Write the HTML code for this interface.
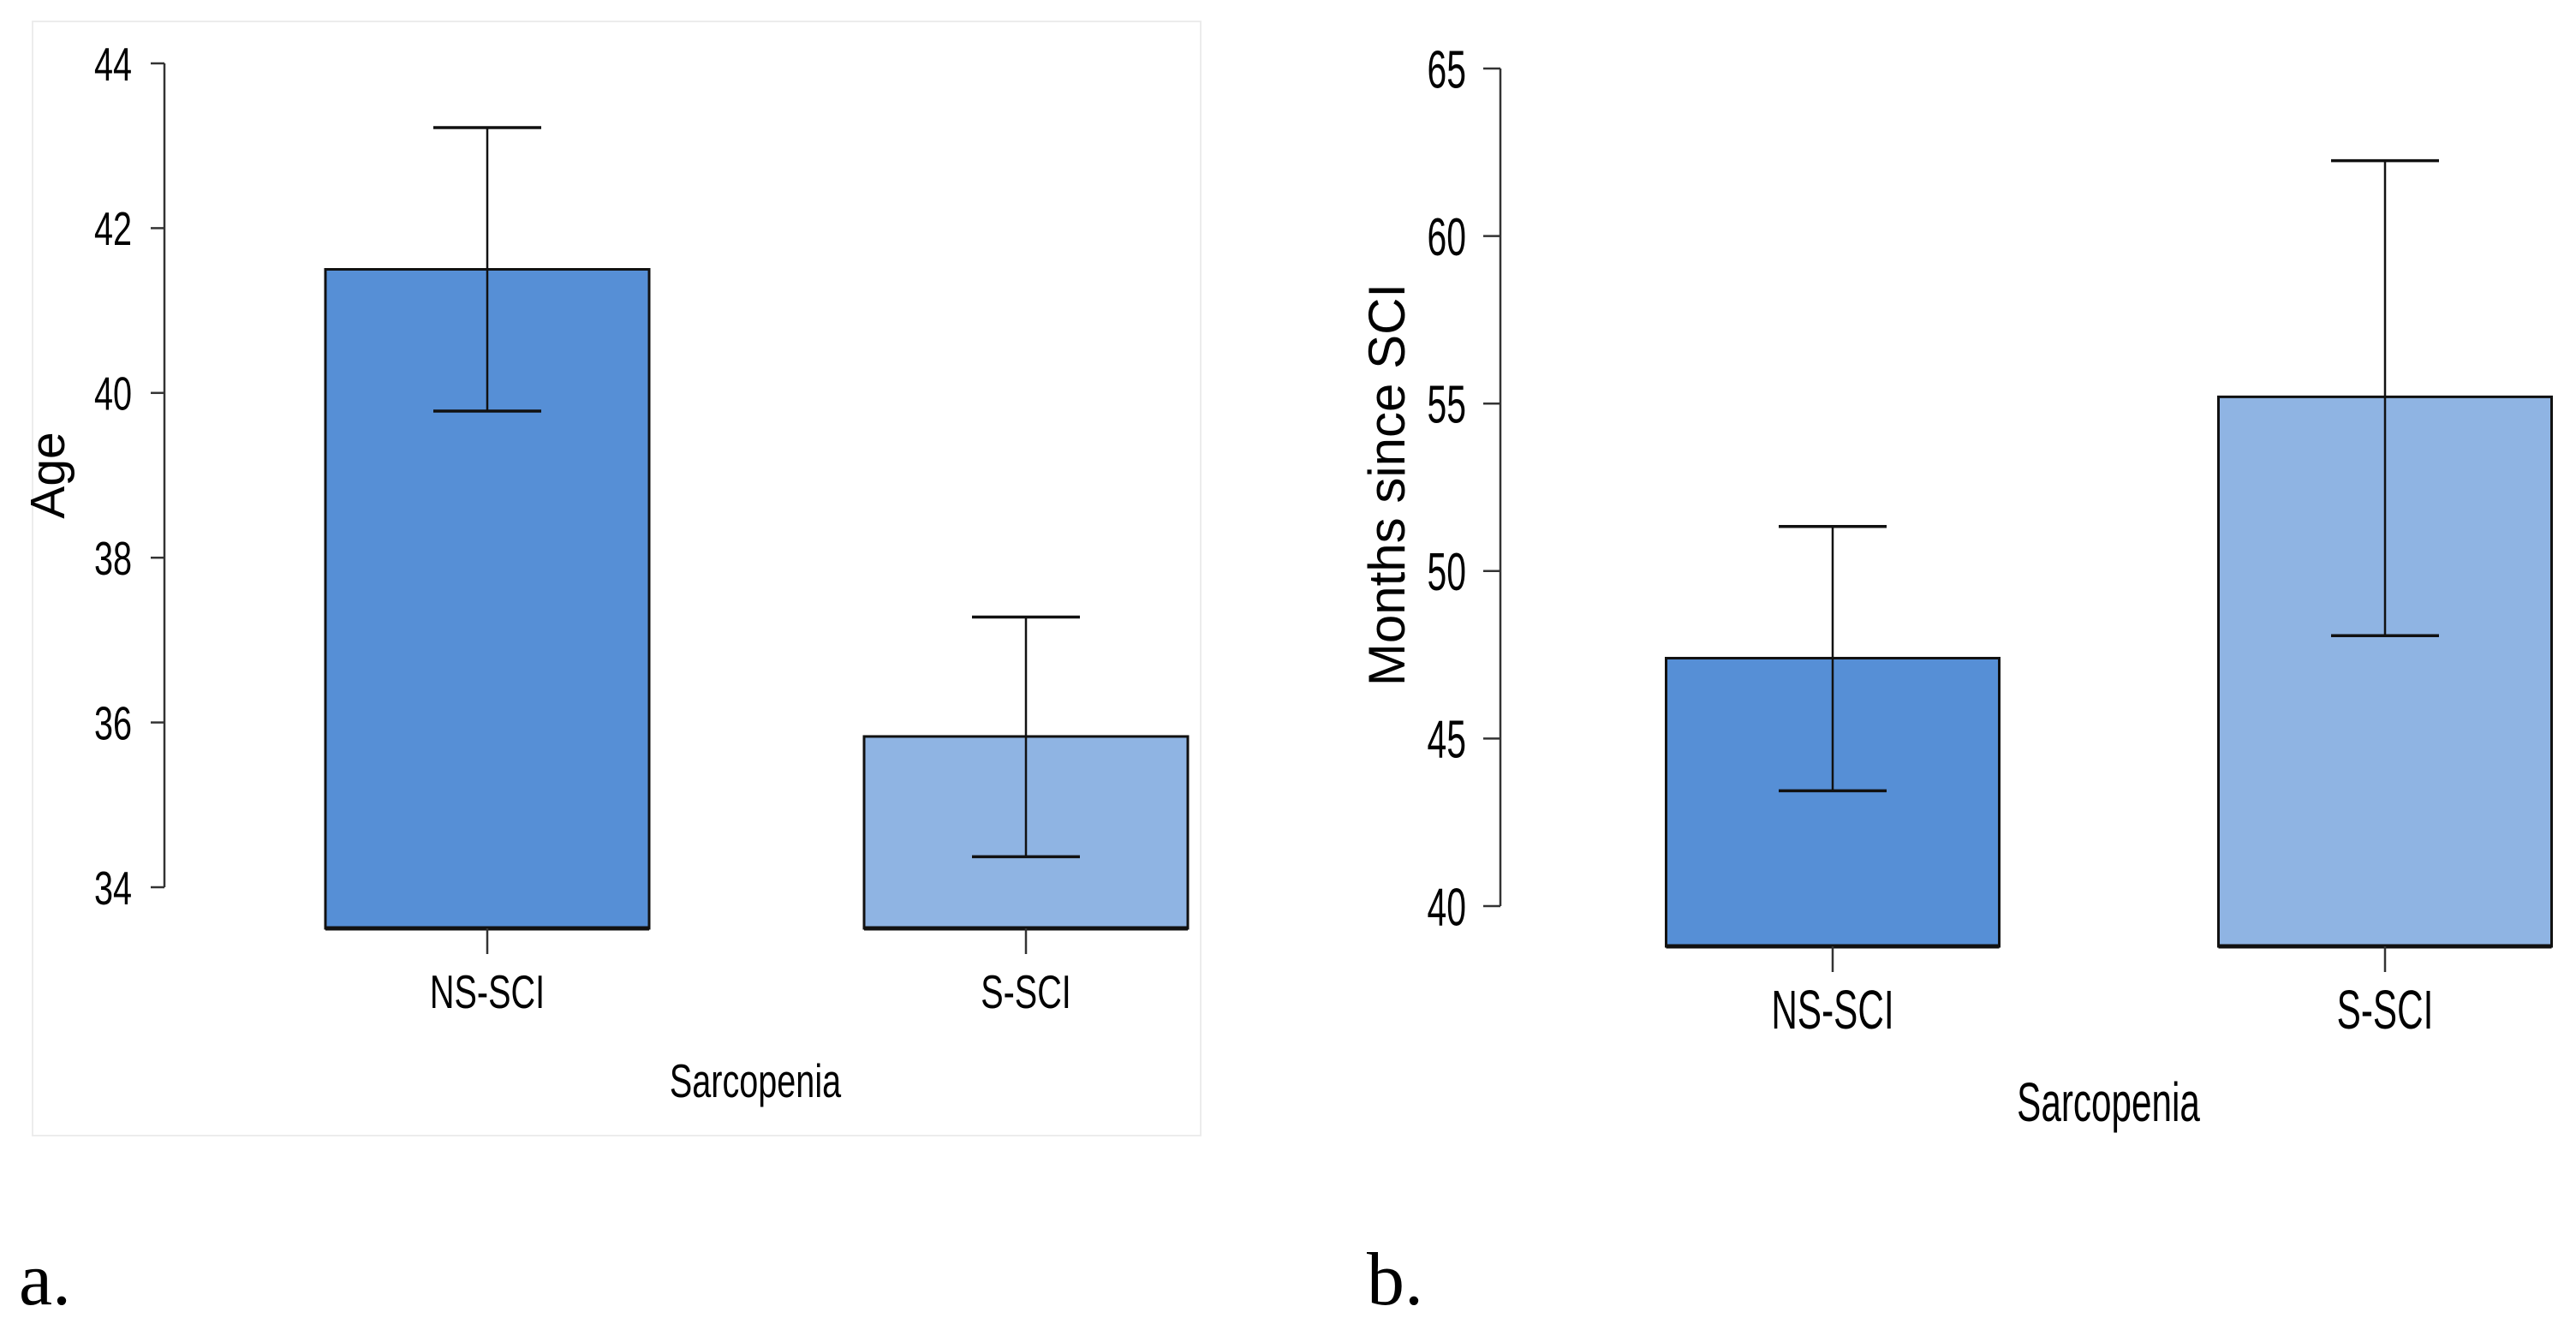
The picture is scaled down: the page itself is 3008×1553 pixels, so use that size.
<!DOCTYPE html>
<html><head><meta charset="utf-8"><style>
html,body{margin:0;padding:0;background:#fff;}
svg{display:block;}
text{font-family:"Liberation Sans",Arial,sans-serif;fill:#000;}
</style></head><body>
<svg id="chart" width="3008" height="1553" viewBox="0 0 3008 1553" xmlns="http://www.w3.org/2000/svg">
<rect x="38" y="25" width="1364" height="1301" fill="#fff" stroke="#ececec" stroke-width="2"/>
<text x="22" y="1523" style="font-family:'Liberation Serif',serif;font-size:88px">a.</text>
<text x="1596" y="1523" style="font-family:'Liberation Serif',serif;font-size:88px">b.</text>
</svg>
<script>
// Panel a: Age
const categoriesA = ["NS-SCI", "S-SCI"];
const meansA = [41.5, 35.83];
const upperA = [43.22, 37.28];
const lowerA = [39.78, 34.37];
const ticksA = [34, 36, 38, 40, 42, 44];
// Panel b: Months since SCI
const categoriesB = ["NS-SCI", "S-SCI"];
const meansB = [47.4, 55.2];
const upperB = [51.33, 62.25];
const lowerB = [43.44, 48.07];
const ticksB = [40, 45, 50, 55, 60, 65];

const svg = document.getElementById('chart');
const NS = 'http://www.w3.org/2000/svg';
function mk(tag, attrs, parent) {
  const e = document.createElementNS(NS, tag);
  for (const k in attrs) e.setAttribute(k, attrs[k]);
  (parent || svg).appendChild(e);
  return e;
}
function label(txt, x, y, size, sx, anchor, parent) {
  const t = mk('text', {transform: `translate(${x},${y}) scale(${sx},1)`, 'font-size': size, 'text-anchor': anchor}, parent);
  t.textContent = txt;
  return t;
}

function drawPanel(cfg) {
  const g = mk('g', {});
  
  
  const y = v => cfg.y0 + (cfg.v0 - v) / (cfg.v1 - cfg.v0) * (cfg.y1 - cfg.y0) * -1;
  // y = pixel at v: linear between (v0,y0) and (v1,y1)
  const Y = v => cfg.y0 + (v - cfg.v0) * (cfg.y1 - cfg.y0) / (cfg.v1 - cfg.v0);
  const ticks = cfg.ticks;
  const axis = mk('line', {x1: cfg.ax, x2: cfg.ax, y1: Y(ticks[0]), y2: Y(ticks[ticks.length-1]), stroke: '#333', 'stroke-width': 2.5}, g);
  
  
  ticks.forEach(t => {
    const tl = mk('line', {x1: cfg.ax - cfg.tickLen, x2: cfg.ax, y1: Y(t), y2: Y(t), stroke: '#333', 'stroke-width': 2.5}, g);
    
    
    const lab = label(String(t), cfg.labRight, Y(t) + cfg.tickFont * 0.36, cfg.tickFont, cfg.sx, 'end', g);
    
    
  });
  cfg.cats.forEach((c, i) => {
    const cx = cfg.centers[i];
    const top = Y(cfg.means[i]);
    const bar = mk('rect', {x: cx - cfg.bw/2, y: top, width: cfg.bw, height: cfg.base - top, fill: cfg.colors[i], stroke: '#111', 'stroke-width': 3}, g);
    
    
    const bl = mk('line', {x1: cx - cfg.bw/2, x2: cx + cfg.bw/2, y1: cfg.base, y2: cfg.base, stroke: '#111', 'stroke-width': 5}, g);
    
    
    const ev = mk('line', {x1: cx, x2: cx, y1: Y(cfg.upper[i]), y2: Y(cfg.lower[i]), stroke: '#111', 'stroke-width': 2.5}, g);
    
    
    [cfg.upper[i], cfg.lower[i]].forEach(v => {
      const cap = mk('line', {x1: cx - cfg.cap, x2: cx + cfg.cap, y1: Y(v), y2: Y(v), stroke: '#111', 'stroke-width': 3.5}, g);
      
      
    });
    const ct = mk('line', {x1: cx, x2: cx, y1: cfg.base, y2: cfg.base + 30, stroke: '#333', 'stroke-width': 2.5}, g);
    
    
    const cl = label(c, cx, cfg.catY, cfg.catFont, cfg.sx, 'middle', g);
    
    
  });
  const xt = label('Sarcopenia', cfg.xtX, cfg.xtY, cfg.catFont, cfg.sx, 'middle', g);
  
  
  const yt = mk('text', {transform: `translate(${cfg.ytX},${cfg.ytY}) rotate(-90)`, 'font-size': cfg.ytFont, 'text-anchor': 'middle'}, g);
  yt.textContent = cfg.ytitle;
  
  
}

drawPanel({
  name: 'chart-age', cats: categoriesA, means: meansA, upper: upperA, lower: lowerA, ticks: ticksA,
  v0: 44, y0: 74, v1: 34, y1: 1036, ax: 192, tickLen: 16, labRight: 154, tickFont: 55, sx: 0.72,
  centers: [569, 1198], bw: 378, base: 1084, cap: 63, colors: ['#568fd6', '#8fb4e3'],
  catY: 1177, catFont: 55, xtX: 882, xtY: 1281, ytX: 75, ytY: 555, ytFont: 57, ytitle: 'Age'
});
drawPanel({
  name: 'chart-months', cats: categoriesB, means: meansB, upper: upperB, lower: lowerB, ticks: ticksB,
  v0: 65, y0: 80, v1: 40, y1: 1058, ax: 1752, tickLen: 20, labRight: 1712, tickFont: 62, sx: 0.66,
  centers: [2140, 2785], bw: 389, base: 1105, cap: 63, colors: ['#568fd6', '#8fb4e3'],
  catY: 1201, catFont: 64, xtX: 2462, xtY: 1309, ytX: 1640, ytY: 566, ytFont: 60, ytitle: 'Months since SCI'
});
</script>
</body></html>
